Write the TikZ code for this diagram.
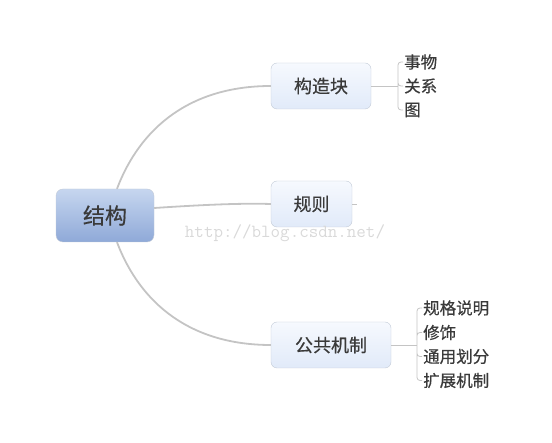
\documentclass[tikz,border=0pt]{standalone}
\usepackage{fontspec}
\newfontfamily\cjk[FakeBold=0.5]{Noto Sans CJK SC}
\definecolor{linegray}{HTML}{C4C4C4}
\definecolor{boxline}{HTML}{C2CAD6}
\definecolor{boxtop}{HTML}{F6F9FE}
\definecolor{boxbot}{HTML}{E1EAF9}
\definecolor{roottop}{HTML}{C6D6EF}
\definecolor{rootbot}{HTML}{8FA9D8}
\definecolor{txt}{HTML}{3A3A3A}
\begin{document}
\begin{tikzpicture}[x=1pt,y=-1pt,
		topic/.style={draw=boxline,rounded corners=6pt,top color=boxtop,bottom color=boxbot,minimum height=46pt,inner sep=0pt,text=txt,font=\cjk\fontsize{18}{18}\selectfont},
		leaf/.style={anchor=west,inner sep=1pt,text=txt,font=\cjk\fontsize{16.5}{17}\selectfont},
		branch/.style={draw=linegray,line width=1.8pt},
		twig/.style={draw=linegray,line width=0.8pt,rounded corners=3pt}]
			\useasboundingbox (0,0) rectangle (552,443);
			\node[draw=boxline,rounded corners=7pt,top color=roottop,bottom color=rootbot,minimum width=98pt,minimum height=53pt,inner sep=0pt,text=txt,font=\cjk\fontsize{22}{22}\selectfont] (root) at (105,215.5) {结构};
			\node[topic,minimum width=100pt] (blk) at (321,86) {构造块};
			\node[topic,minimum width=81pt] (rule) at (311.5,204) {规则};
			\node[topic,minimum width=120pt] (pub) at (331,345) {公共机制};
			\node[leaf] (b1) at (403,62) {事物};
			\node[leaf] (b2) at (403,86) {关系};
			\node[leaf] (b3) at (403,110) {图};
			\node[leaf] (p1) at (422,308) {规格说明};
			\node[leaf] (p2) at (422,332.5) {修饰};
			\node[leaf] (p3) at (422,356.5) {通用划分};
			\node[leaf] (p4) at (422,380.5) {扩展机制};
			\coordinate (bb) at (398,86);
			\coordinate (pb) at (417,345);
			\coordinate (rs) at (357,204);
			\node[text=gray!30,font=\ttfamily\fontsize{18.5}{19}\selectfont,inner sep=0pt] (wm) at (285,233) {http://blog.csdn.net/};
			\draw[branch] (root.north -| 117,0) .. controls (140,128) and (190,86) .. (blk.west);
			\draw[branch] (root.south -| 117,0) .. controls (140,303) and (190,345) .. (pub.west);
			\draw[branch] (root.east |- 0,208) .. controls (200,205) and (240,203) .. (rule.west);
			\draw[twig] (blk.east) -- (bb) (rule.east) -- (rs) (pub.east) -- (pb);
			\draw[twig] (bb) |- (b1.west) (bb) |- (b2.west) (bb) |- (b3.west);
			\draw[twig] (pb) |- (p1.west) (pb) |- (p2.west) (pb) |- (p3.west) (pb) |- (p4.west);
		\end{tikzpicture}
\end{document}
